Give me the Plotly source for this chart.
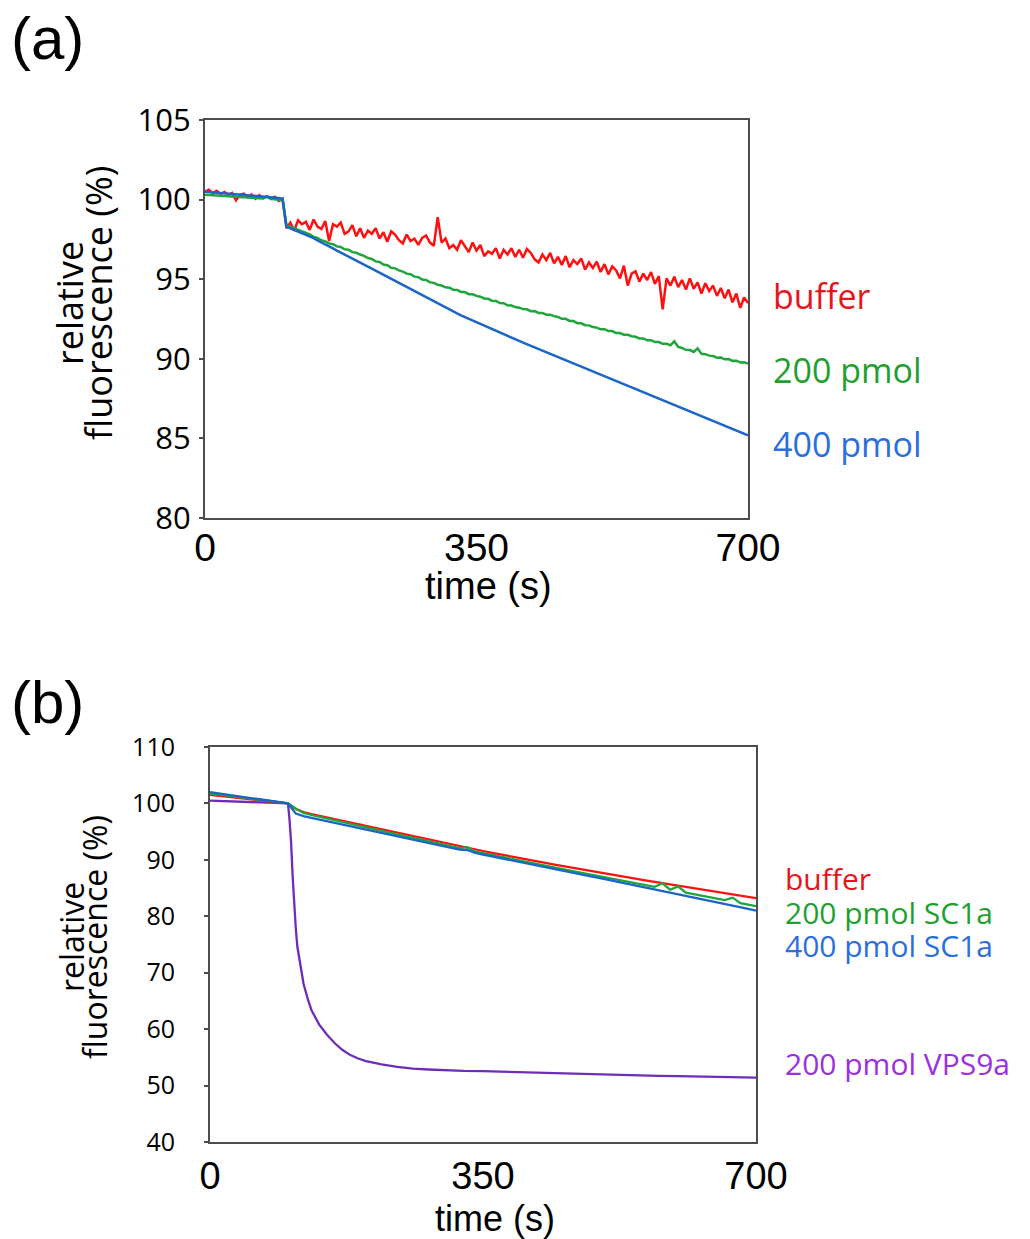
import plotly.graph_objects as go

# ---------------- Panel (a) data ----------------
time_a = list(range(0, 705, 5))

buffer_a = [
    100.50, 100.62, 100.40, 100.55, 100.35, 100.48, 100.30, 100.42, 99.95, 100.30,
    100.38, 100.15, 100.32, 100.05, 100.28, 100.10, 100.22, 100.05, 100.18, 99.92, 100.05,
    98.20, 98.55, 98.05, 98.70, 98.45, 98.60, 98.10, 98.75, 98.30, 98.15,
    98.65, 97.40, 98.45, 98.30, 98.55, 97.85, 98.00, 98.40, 97.70, 98.20,
    97.60, 98.05, 97.85, 98.20, 97.55, 97.95, 97.35, 98.00, 97.80, 97.45,
    97.25, 97.80, 97.40, 97.55, 97.15, 97.60, 97.75, 97.30, 97.10, 98.90,
    97.30, 97.55, 96.95, 97.15, 96.85, 97.45, 97.05, 96.70, 97.30, 96.80,
    97.15, 96.45, 96.75, 96.60, 96.95, 96.30, 96.85, 96.55, 96.95, 96.40,
    96.85, 96.35, 96.90, 96.65, 96.25, 96.05, 96.55, 96.20, 96.65, 96.00,
    96.40, 95.90, 96.45, 95.75, 96.20, 95.95, 96.30, 95.60, 96.05, 95.70,
    96.10, 95.45, 95.95, 95.30, 95.80, 95.55, 95.05, 95.85, 94.60, 95.35,
    95.50, 94.85, 95.35, 94.95, 95.45, 94.70, 95.20, 93.10, 95.05, 94.60,
    95.15, 94.50, 94.95, 94.35, 95.05, 94.40, 94.80, 94.10, 94.75, 94.25,
    94.60, 93.95, 94.45, 93.80, 94.35, 93.55, 94.10, 93.20, 93.85, 93.50,
]

pmol200_a = [
    100.30, 100.28, 100.27, 100.25, 100.24, 100.22, 100.20, 100.19, 100.17, 100.16,
    100.14, 100.13, 100.11, 100.10, 100.08, 100.07, 100.20, 100.04, 100.02, 100.01, 99.98,
    98.40, 98.30, 98.22, 98.08, 98.02, 97.88, 97.82, 97.66, 97.60, 97.45,
    97.38, 97.25, 97.20, 97.06, 97.02, 96.88, 96.85, 96.70, 96.66, 96.55,
    96.47, 96.33, 96.27, 96.12, 96.08, 95.92, 95.88, 95.72, 95.68, 95.55,
    95.48, 95.35, 95.31, 95.16, 95.13, 94.98, 94.95, 94.80, 94.77, 94.65,
    94.60, 94.49, 94.47, 94.34, 94.33, 94.20, 94.19, 94.06, 94.05, 93.95,
    93.90, 93.79, 93.77, 93.64, 93.63, 93.50, 93.49, 93.36, 93.35, 93.25,
    93.21, 93.12, 93.11, 92.99, 93.00, 92.88, 92.88, 92.77, 92.77, 92.68,
    92.63, 92.51, 92.51, 92.38, 92.37, 92.24, 92.23, 92.11, 92.10, 92.00,
    91.96, 91.85, 91.86, 91.74, 91.74, 91.62, 91.62, 91.51, 91.51, 91.42,
    91.38, 91.28, 91.28, 91.16, 91.17, 91.05, 91.05, 90.94, 90.94, 90.85,
    91.10, 90.74, 90.68, 90.56, 90.55, 90.43, 90.66, 90.32, 90.29, 90.20,
    90.17, 90.07, 90.08, 89.97, 89.98, 89.87, 89.88, 89.77, 89.78, 89.70,
]

pmol400_a = [
    100.50, 100.48, 100.46, 100.45, 100.42, 100.40, 100.38, 100.36, 100.34, 100.32,
    100.30, 100.28, 100.26, 100.24, 100.22, 100.20, 100.17, 100.15, 100.12, 100.10, 100.05,
    98.30, 98.20, 98.10, 98.00, 97.90, 97.80, 97.70, 97.58, 97.44, 97.30,
    97.18, 97.05, 96.93, 96.80, 96.68, 96.55, 96.43, 96.30, 96.18, 96.05,
    95.92, 95.79, 95.66, 95.53, 95.40, 95.27, 95.14, 95.01, 94.88, 94.75,
    94.62, 94.49, 94.36, 94.23, 94.10, 93.97, 93.84, 93.71, 93.58, 93.45,
    93.33, 93.21, 93.09, 92.97, 92.85, 92.73, 92.62, 92.51, 92.40, 92.29,
    92.18, 92.07, 91.96, 91.86, 91.75, 91.65, 91.54, 91.44, 91.33, 91.23,
    91.12, 91.02, 90.92, 90.81, 90.71, 90.61, 90.50, 90.40, 90.30, 90.20,
    90.09, 89.99, 89.89, 89.79, 89.69, 89.59, 89.49, 89.39, 89.29, 89.19,
    89.09, 88.99, 88.89, 88.79, 88.69, 88.59, 88.49, 88.39, 88.29, 88.19,
    88.09, 87.99, 87.89, 87.79, 87.69, 87.59, 87.49, 87.39, 87.29, 87.19,
    87.09, 86.99, 86.89, 86.79, 86.69, 86.59, 86.49, 86.39, 86.29, 86.19,
    86.09, 85.99, 85.89, 85.79, 85.69, 85.59, 85.49, 85.39, 85.29, 85.19,
]

labels_a = ["buffer", "200 pmol", "400 pmol"]

# ---------------- Panel (b) data ----------------
time_b = list(range(0, 710, 10))

buffer_b = [
    101.50, 101.35, 101.20, 101.05, 100.90, 100.75, 100.60, 100.45, 100.30, 100.15, 100.00,
    99.00, 98.45, 98.10, 97.80, 97.50, 97.20, 96.90, 96.60, 96.28, 95.95,
    95.65, 95.35, 95.05, 94.75, 94.45, 94.15, 93.85, 93.55, 93.25, 92.95,
    92.67, 92.40, 92.12, 91.85, 91.57, 91.30, 91.02, 90.75, 90.47, 90.20,
    89.95, 89.70, 89.45, 89.20, 88.95, 88.70, 88.45, 88.20, 87.95, 87.70,
    87.47, 87.24, 87.01, 86.78, 86.55, 86.32, 86.09, 85.86, 85.63, 85.40,
    85.18, 84.96, 84.74, 84.52, 84.30, 84.08, 83.86, 83.64, 83.42, 83.20,
]

sc1a200_b = [
    101.80, 101.62, 101.44, 101.26, 101.08, 100.90, 100.72, 100.54, 100.36, 100.18, 100.00,
    99.10, 98.30, 97.95, 97.65, 97.35, 97.05, 96.72, 96.40, 96.08, 95.75,
    95.44, 95.13, 94.82, 94.51, 94.20, 93.89, 93.58, 93.27, 92.96, 92.65,
    92.36, 92.07, 92.25, 91.49, 91.20, 90.91, 90.62, 90.33, 90.04, 89.75,
    89.48, 89.21, 88.94, 88.67, 88.40, 88.13, 87.86, 87.59, 87.32, 87.05,
    86.79, 86.53, 86.27, 86.01, 85.75, 85.49, 85.23, 85.85, 84.71, 85.30,
    84.19, 83.92, 83.66, 83.39, 83.13, 82.86, 83.30, 82.33, 82.07, 81.80,
]

sc1a400_b = [
    102.00, 101.80, 101.60, 101.40, 101.20, 101.00, 100.80, 100.60, 100.40, 100.20, 100.00,
    98.20, 97.75, 97.45, 97.15, 96.85, 96.55, 96.25, 95.95, 95.70, 95.45,
    95.15, 94.84, 94.54, 94.23, 93.93, 93.62, 93.32, 93.01, 92.71, 92.40,
    92.11, 91.82, 91.75, 91.24, 90.95, 90.66, 90.37, 90.08, 89.79, 89.50,
    89.23, 88.95, 88.68, 88.40, 88.13, 87.85, 87.58, 87.30, 87.03, 86.75,
    86.47, 86.19, 85.91, 85.63, 85.35, 85.07, 84.79, 84.51, 84.23, 83.95,
    83.66, 83.36, 83.07, 82.77, 82.48, 82.18, 81.89, 81.59, 81.30, 81.00,
]

time_vps = [0, 10, 20, 30, 40, 50, 60, 70, 80, 90, 100, 102, 104, 106, 108, 110,
            112, 115, 120, 125, 130, 140, 150, 160, 170, 180, 190, 200, 220, 240,
            260, 280, 300, 325, 350, 375, 400, 425, 450, 475, 500, 525, 550, 575,
            600, 625, 650, 675, 700]
vps9a200_b = [100.50, 100.45, 100.40, 100.35, 100.30, 100.25, 100.20, 100.15, 100.10,
              100.05, 100.00, 97.00, 93.00, 87.00, 81.50, 77.80, 74.60, 71.80, 68.00,
              65.50, 63.40, 60.80, 59.00, 57.50, 56.30, 55.40, 54.80, 54.35, 53.75,
              53.30, 53.00, 52.85, 52.72, 52.60, 52.55, 52.45, 52.30, 52.28, 52.15,
              52.05, 51.92, 51.90, 51.80, 51.72, 51.68, 51.62, 51.55, 51.50, 51.42]

labels_b = ["buffer", "200 pmol SC1a", "400 pmol SC1a", "200 pmol VPS9a"]

x_ticks = [0, 350, 700]
x_tick_text = ["0", "350", "700"]

# ---------------- styling ----------------
W, H = 1030, 1239
RED, GREEN, BLUE, PURPLE = "#ff1010", "#1fa53c", "#1a66c8", "#6e2db8"
T_RED, T_GREEN, T_BLUE, T_PURPLE = "#e8141c", "#1f9f2f", "#2a6fdc", "#9a30e0"
ARIAL = "Liberation Sans, Arial, sans-serif"
HUMAN = "Open Sans, Noto Sans, sans-serif"
FRAME = "#4d4d4d"


def px(x):
    return x / W


def py(y):
    return 1 - y / H


fig = go.Figure()
for vals, col in [(buffer_a, RED), (pmol200_a, GREEN), (pmol400_a, BLUE)]:
    fig.add_trace(go.Scatter(x=time_a, y=vals, mode="lines",
                             line=dict(color=col, width=2.5),
                             xaxis="x", yaxis="y", showlegend=False))
fig.add_trace(go.Scatter(x=time_vps, y=vps9a200_b, mode="lines",
                         line=dict(color=PURPLE, width=2.3),
                         xaxis="x2", yaxis="y2", showlegend=False))
for vals, col in [(buffer_b, RED), (sc1a200_b, GREEN), (sc1a400_b, BLUE)]:
    fig.add_trace(go.Scatter(x=time_b, y=vals, mode="lines",
                             line=dict(color=col, width=2.3),
                             xaxis="x2", yaxis="y2", showlegend=False))

common_x = dict(range=[0, 700], tickmode="array", tickvals=x_ticks, ticktext=x_tick_text,
                ticks="", showgrid=False, zeroline=False, showline=True, mirror=True,
                linecolor=FRAME, linewidth=2, automargin=False)
common_y = dict(showgrid=False, zeroline=False, showline=True, mirror=True,
                linecolor=FRAME, linewidth=2, ticks="outside", ticklen=4,
                tickcolor=FRAME, tickwidth=1.5, automargin=False)

fig.update_layout(
    width=W, height=H,
    margin=dict(l=0, r=0, t=0, b=0, pad=0, autoexpand=False),
    paper_bgcolor="white", plot_bgcolor="white",
    xaxis=dict(domain=[px(205), px(748)], anchor="y",
               tickfont=dict(family=ARIAL, size=39, color="black"),
               ticklabelstandoff=-6, **common_x),
    yaxis=dict(domain=[py(518), py(120)], anchor="x", range=[80, 105],
               tickmode="array", tickvals=[80, 85, 90, 95, 100, 105],
               tickfont=dict(family=HUMAN, size=31, color="black"),
               ticklabelstandoff=2, **common_y),
    xaxis2=dict(domain=[px(210), px(756)], anchor="y2",
                tickfont=dict(family=ARIAL, size=38, color="black"),
                ticklabelstandoff=-1, **common_x),
    yaxis2=dict(domain=[py(1142), py(747)], anchor="x2", range=[40, 110],
                tickmode="array", tickvals=[40, 50, 60, 70, 80, 90, 100, 110],
                tickfont=dict(family=HUMAN, size=25, color="black"),
                ticklabelstandoff=24, **common_y),
)

ann = []


def add_text(text, x, y, font, size, color="black", xanchor="center", angle=0):
    ann.append(dict(text=text, x=px(x), y=py(y), xref="paper", yref="paper",
                    xanchor=xanchor, yanchor="middle", showarrow=False,
                    textangle=angle, font=dict(family=font, size=size, color=color)))


# panel letters
add_text("(a)", 47, 39, ARIAL, 60)
add_text("(b)", 47, 702, ARIAL, 60)

# y-axis titles (two lines, tight spacing)
add_text("relative", 69, 303, HUMAN, 36, angle=-90)
add_text("fluorescence (%)", 98, 303, HUMAN, 36, angle=-90)
add_text("relative", 71, 937, HUMAN, 32, angle=-90)
add_text("fluorescence (%)", 94, 937, HUMAN, 32, angle=-90)

# x-axis titles
add_text("time (s)", 488, 586, ARIAL, 38)
add_text("time (s)", 495, 1218, ARIAL, 36)

# series labels
for lab, y, col in zip(labels_a, [296, 370, 444], [T_RED, T_GREEN, T_BLUE]):
    add_text(lab, 771, y, HUMAN, 34, color=col, xanchor="left")
for lab, y, col in zip(labels_b, [878, 912, 945, 1063], [T_RED, T_GREEN, T_BLUE, T_PURPLE]):
    add_text(lab, 783, y, HUMAN, 30, color=col, xanchor="left")

fig.update_layout(annotations=ann)
fig.write_html("out.html",
               config={"displayModeBar": False},
               post_script="document.body.style.margin='0px';"
                           "document.body.style.overflow='hidden';")
